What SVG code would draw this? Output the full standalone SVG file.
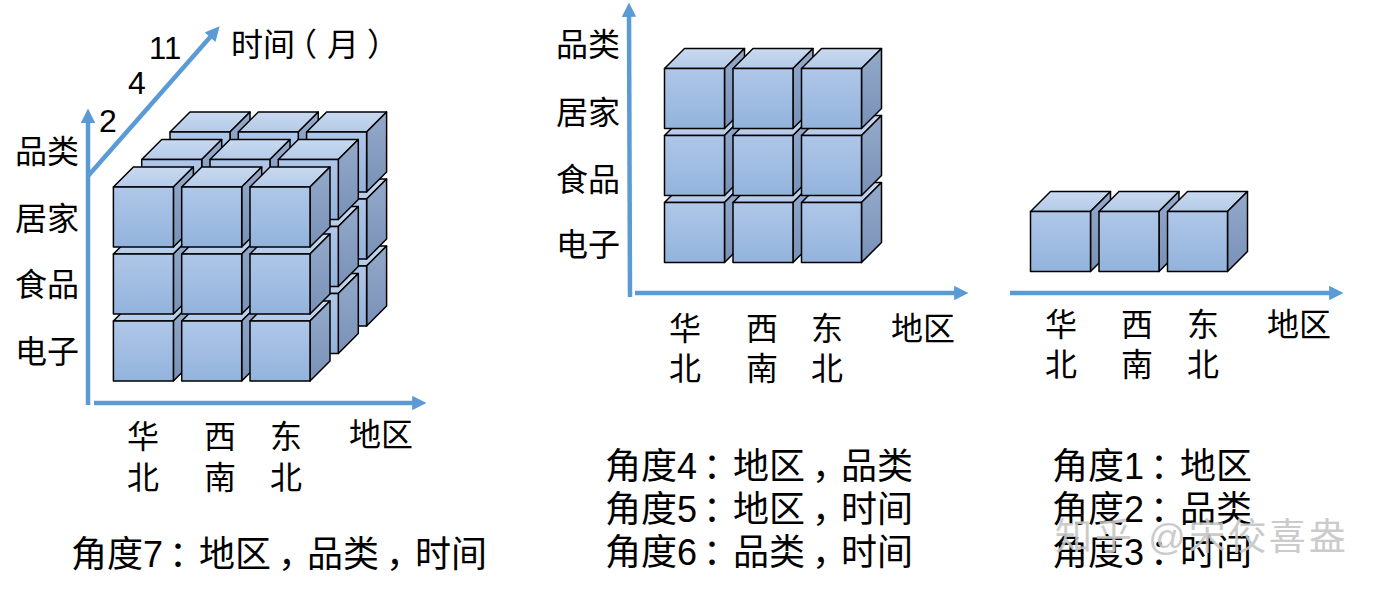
<svg xmlns="http://www.w3.org/2000/svg" xmlns:xlink="http://www.w3.org/1999/xlink" width="1387" height="591" viewBox="0 0 1387 591">
<style>
text{font-family:"Liberation Sans","Noto Sans CJK SC",sans-serif;fill:#000}
.l{font-size:32px}
.b{font-size:36px}
.ax{stroke:#5B9BD5;stroke-width:4.5;fill:none}
.cf{stroke:#000;stroke-width:1.5;stroke-linejoin:round}
.wm{font-size:37px;fill:#c6c6c6;opacity:0.9;letter-spacing:3px}
</style>
<defs>
<linearGradient id="gf" x1="0" y1="0" x2="0" y2="1"><stop offset="0" stop-color="#AFC7E8"/><stop offset="1" stop-color="#93B3DC"/></linearGradient>
<linearGradient id="gt" x1="0" y1="0" x2="0" y2="1"><stop offset="0" stop-color="#C9DAF0"/><stop offset="1" stop-color="#B4CAE8"/></linearGradient>
<linearGradient id="gs" x1="0" y1="0" x2="0" y2="1"><stop offset="0" stop-color="#94AACB"/><stop offset="1" stop-color="#7991B7"/></linearGradient>
<marker id="ah" viewBox="0 0 10 10" refX="2" refY="5" markerWidth="3.6" markerHeight="3.2" orient="auto" markerUnits="strokeWidth"><path d="M0,0 L10,5 L0,10 z" fill="#5B9BD5"/></marker>
<g id="cube">
<polygon class="cf" points="0,0 20,-20 80,-20 60,0" fill="url(#gt)"/>
<polygon class="cf" points="60,0 80,-20 80,40 60,60" fill="url(#gs)"/>
<rect class="cf" x="0" y="0" width="60" height="60" fill="url(#gf)"/>
</g>
</defs>

<g id="connectors">
<line class="ax" x1="88" y1="405" x2="88" y2="120" marker-end="url(#ah)"/>
<line class="ax" x1="88" y1="176" x2="212" y2="35" marker-end="url(#ah)"/>
<line class="ax" x1="94" y1="403" x2="415" y2="403" marker-end="url(#ah)"/>
<line class="ax" x1="630" y1="297" x2="629" y2="14" marker-end="url(#ah)"/>
<line class="ax" x1="635" y1="293" x2="957" y2="293" marker-end="url(#ah)"/>
<line class="ax" x1="1010" y1="293" x2="1332" y2="293" marker-end="url(#ah)"/>
</g>

<g id="cube7">
<use xlink:href="#cube" x="170" y="266"/><use xlink:href="#cube" x="238.3" y="266"/><use xlink:href="#cube" x="306.6" y="266"/>
<use xlink:href="#cube" x="170" y="199"/><use xlink:href="#cube" x="238.3" y="199"/><use xlink:href="#cube" x="306.6" y="199"/>
<use xlink:href="#cube" x="170" y="132"/><use xlink:href="#cube" x="238.3" y="132"/><use xlink:href="#cube" x="306.6" y="132"/>
<use xlink:href="#cube" x="141.7" y="293.5"/><use xlink:href="#cube" x="210" y="293.5"/><use xlink:href="#cube" x="278.3" y="293.5"/>
<use xlink:href="#cube" x="141.7" y="226.5"/><use xlink:href="#cube" x="210" y="226.5"/><use xlink:href="#cube" x="278.3" y="226.5"/>
<use xlink:href="#cube" x="141.7" y="159.5"/><use xlink:href="#cube" x="210" y="159.5"/><use xlink:href="#cube" x="278.3" y="159.5"/>
<use xlink:href="#cube" x="113.4" y="321"/><use xlink:href="#cube" x="181.7" y="321"/><use xlink:href="#cube" x="250" y="321"/>
<use xlink:href="#cube" x="113.4" y="254"/><use xlink:href="#cube" x="181.7" y="254"/><use xlink:href="#cube" x="250" y="254"/>
<use xlink:href="#cube" x="113.4" y="187"/><use xlink:href="#cube" x="181.7" y="187"/><use xlink:href="#cube" x="250" y="187"/>
</g>

<g id="cube2d">
<use xlink:href="#cube" x="664.5" y="202.5"/><use xlink:href="#cube" x="733" y="202.5"/><use xlink:href="#cube" x="801.5" y="202.5"/>
<use xlink:href="#cube" x="664.5" y="135.5"/><use xlink:href="#cube" x="733" y="135.5"/><use xlink:href="#cube" x="801.5" y="135.5"/>
<use xlink:href="#cube" x="664.5" y="68.5"/><use xlink:href="#cube" x="733" y="68.5"/><use xlink:href="#cube" x="801.5" y="68.5"/>
</g>

<g id="cube1d">
<use xlink:href="#cube" x="1030.5" y="211.5"/><use xlink:href="#cube" x="1099" y="211.5"/><use xlink:href="#cube" x="1167.5" y="211.5"/>
</g>

<g id="labels-left">
<text class="l" x="15" y="163">品类</text>
<text class="l" x="15" y="230">居家</text>
<text class="l" x="15" y="296">食品</text>
<text class="l" x="15" y="363">电子</text>
<text class="l" x="231" y="56">时间<tspan dx="-10">（</tspan><tspan dx="10">月</tspan><tspan dx="8">）</tspan></text>
<text class="l" x="149" y="59" style="font-size:31px">11</text>
<text class="l" x="128" y="94">4</text>
<text class="l" x="99" y="132">2</text>
<text class="l" x="127" y="448">华</text>
<text class="l" x="127" y="489">北</text>
<text class="l" x="204" y="448">西</text>
<text class="l" x="204" y="489">南</text>
<text class="l" x="270" y="448">东</text>
<text class="l" x="270" y="489">北</text>
<text class="l" x="349" y="446">地区</text>
<text class="b" x="71" y="567">角度7<tspan dx="6">：</tspan><tspan dx="-6">地区</tspan><tspan dx="7">，</tspan><tspan dx="-7">品类</tspan><tspan dx="7">，</tspan><tspan dx="-7">时间</tspan></text>
</g>

<g id="labels-mid">
<text class="l" x="556" y="56">品类</text>
<text class="l" x="556" y="124">居家</text>
<text class="l" x="556" y="191">食品</text>
<text class="l" x="556" y="256">电子</text>
<text class="l" x="669" y="340">华</text>
<text class="l" x="669" y="380">北</text>
<text class="l" x="746" y="340">西</text>
<text class="l" x="746" y="380">南</text>
<text class="l" x="811" y="340">东</text>
<text class="l" x="811" y="380">北</text>
<text class="l" x="891" y="340">地区</text>
<text class="b" x="605" y="479">角度4<tspan dx="6">：</tspan><tspan dx="-6">地区</tspan><tspan dx="7">，</tspan><tspan dx="-7">品类</tspan></text>
<text class="b" x="605" y="522">角度5<tspan dx="6">：</tspan><tspan dx="-6">地区</tspan><tspan dx="7">，</tspan><tspan dx="-7">时间</tspan></text>
<text class="b" x="605" y="565">角度6<tspan dx="6">：</tspan><tspan dx="-6">品类</tspan><tspan dx="7">，</tspan><tspan dx="-7">时间</tspan></text>
</g>

<g id="labels-right">
<text class="l" x="1045" y="336">华</text>
<text class="l" x="1045" y="376">北</text>
<text class="l" x="1121" y="336">西</text>
<text class="l" x="1121" y="376">南</text>
<text class="l" x="1187" y="336">东</text>
<text class="l" x="1187" y="376">北</text>
<text class="l" x="1267" y="336">地区</text>
<text class="b" x="1052" y="479">角度1<tspan dx="6">：</tspan><tspan dx="-6">地区</tspan></text>
<text class="b" x="1052" y="522">角度2<tspan dx="6">：</tspan><tspan dx="-6">品类</tspan></text>
<text class="b" x="1052" y="565">角度3<tspan dx="6">：</tspan><tspan dx="-6">时间</tspan></text>
</g>

<g id="watermark">
<text class="wm" x="1055" y="550">知乎 @宋佼喜盎</text>
</g>
</svg>
